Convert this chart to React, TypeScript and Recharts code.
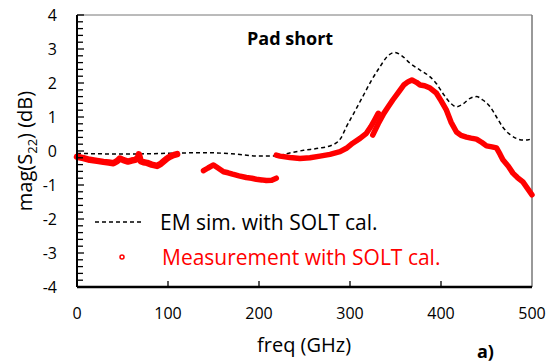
import { LineChart, Line, XAxis, YAxis, ReferenceLine } from "recharts";

// EM simulation (dashed black)
const simFreq = [0, 20, 50, 80, 110, 140, 170, 200, 219, 235, 249, 265, 281, 290, 296, 305, 314, 323, 333, 341, 349, 357, 366, 377, 388, 395, 402, 410, 417, 424, 432, 439, 446, 454, 461, 468, 476, 483, 490, 496, 500];
const simMag = [-0.07, -0.08, -0.09, -0.08, -0.06, -0.05, -0.08, -0.15, -0.14, -0.05, 0.02, 0.08, 0.18, 0.38, 0.71, 1.15, 1.6, 2.05, 2.48, 2.78, 2.9, 2.8, 2.58, 2.38, 2.18, 1.98, 1.7, 1.42, 1.3, 1.38, 1.55, 1.6, 1.5, 1.3, 1.0, 0.7, 0.48, 0.37, 0.32, 0.33, 0.38];

// measurement, four frequency bands
const meas1Freq = [0, 7, 14, 22, 29, 35, 40, 44, 47, 51, 56, 60, 64, 67, 68, 70, 73, 77, 82, 88, 92, 95, 99, 102, 106, 110];
const meas1Mag = [-0.17, -0.21, -0.26, -0.29, -0.32, -0.34, -0.36, -0.3, -0.22, -0.27, -0.31, -0.28, -0.26, -0.2, -0.1, -0.3, -0.33, -0.35, -0.4, -0.44, -0.38, -0.31, -0.22, -0.17, -0.12, -0.09];
const meas2Freq = [139, 144, 150, 155, 161, 166, 171, 178, 186, 192, 197, 203, 208, 214, 219];
const meas2Mag = [-0.58, -0.5, -0.41, -0.5, -0.61, -0.64, -0.68, -0.73, -0.78, -0.8, -0.83, -0.85, -0.87, -0.86, -0.8];
const meas3Freq = [219, 223, 234, 245, 256, 267, 278, 289, 296, 303, 311, 318, 323, 327, 331];
const meas3Mag = [-0.12, -0.15, -0.19, -0.22, -0.2, -0.15, -0.1, -0.02, 0.08, 0.23, 0.37, 0.52, 0.72, 0.91, 1.11];
const meas4Freq = [325, 331, 337, 342, 347, 353, 359, 364, 368, 373, 377, 382, 388, 395, 400, 406, 411, 417, 422, 428, 433, 439, 445, 450, 456, 461, 465, 468, 474, 479, 484, 490, 495, 500];
const meas4Mag = [0.47, 0.8, 1.1, 1.3, 1.5, 1.72, 1.94, 2.04, 2.09, 2.02, 1.94, 1.92, 1.85, 1.7, 1.48, 1.2, 0.85, 0.56, 0.46, 0.41, 0.38, 0.35, 0.25, 0.15, 0.12, 0.09, -0.1, -0.26, -0.45, -0.65, -0.78, -0.91, -1.1, -1.29];

const xTicks = [0, 100, 200, 300, 400, 500];
const yTicks = Array.from({ length: 41 }, (_, i) => Math.round((-4 + i * 0.2) * 10) / 10);

const FONT = "'Open Sans', sans-serif";

const pairs = (fs: number[], vs: number[]) => fs.map((f, i) => ({ f, v: vs[i] }));

const simData = pairs(simFreq, simMag);
const meas = [
  pairs(meas1Freq, meas1Mag),
  pairs(meas2Freq, meas2Mag),
  pairs(meas3Freq, meas3Mag),
  pairs(meas4Freq, meas4Mag),
];

function YTick(props: any) {
  const { x, y, payload } = props;
  const major = Number.isInteger(payload.value);
  return (
    <g>
      <line x1={x} x2={x + (major ? 7 : 6)} y1={y} y2={y} stroke="#000000" strokeWidth={1.3} />
      {major && (
        <text x={x - 20} y={y} dy={6} textAnchor="end" fontSize={16} fontFamily={FONT} fill="#000">
          {payload.value}
        </text>
      )}
    </g>
  );
}

function XTick(props: any) {
  const { x, y, payload } = props;
  const edge = payload.value === 0 || payload.value === 500;
  return (
    <g>
      {!edge && <line x1={x} x2={x} y1={y} y2={y - 6} stroke="#000000" strokeWidth={1.3} />}
      <text x={x} y={y + 32} textAnchor="middle" fontSize={16} fontFamily={FONT} fill="#000">
        {payload.value}
      </text>
    </g>
  );
}

export default function App() {
  return (
    <div style={{ position: "absolute", left: 0, top: 0, width: 551, height: 364, fontFamily: FONT }}>
      <LineChart width={551} height={364} margin={{ top: 15, right: 19, bottom: 0, left: 0 }}>
        <XAxis
          dataKey="f"
          type="number"
          domain={[0, 500]}
          ticks={xTicks}
          tickLine={false}
          tickSize={0}
          tickMargin={0}
          height={77}
          axisLine={{ stroke: "#000", strokeWidth: 2.5 }}
          tick={<XTick />}
          allowDuplicatedCategory={false}
        />
        <YAxis
          type="number"
          domain={[-4, 4]}
          ticks={yTicks}
          interval={0}
          tickLine={false}
          tickSize={0}
          tickMargin={0}
          width={77}
          axisLine={{ stroke: "#000", strokeWidth: 2 }}
          tick={<YTick />}
        />
        <ReferenceLine y={4} stroke="#777" strokeWidth={1} />
        <ReferenceLine x={500} stroke="#777" strokeWidth={1.5} />
        <Line
          data={simData}
          dataKey="v"
          type="monotone"
          stroke="#000"
          strokeWidth={1.5}
          strokeDasharray="4 3"
          dot={false}
          isAnimationActive={false}
        />
        {meas.map((d, i) => (
          <Line
            key={i}
            data={d}
            dataKey="v"
            type="linear"
            stroke="#ff0000"
            strokeWidth={i === 0 ? 6.5 : 5.5}
            strokeLinejoin="round"
            strokeLinecap="round"
            dot={false}
            isAnimationActive={false}
          />
        ))}
      </LineChart>

      <div style={{ position: "absolute", left: 247, top: 26, fontSize: 18, fontWeight: 700, color: "#000" }}>Pad short</div>

      <div style={{ position: "absolute", left: 95, top: 208, display: "flex", alignItems: "center" }}>
        <svg width={50} height={6}>
          <line x1={0} x2={48} y1={3} y2={3} stroke="#000" strokeWidth={1.5} strokeDasharray="4 3" />
        </svg>
        <span style={{ marginLeft: 15, fontSize: 21, color: "#000", lineHeight: "28px" }}>EM sim. with SOLT cal.</span>
      </div>
      <div style={{ position: "absolute", left: 95, top: 243, display: "flex", alignItems: "center" }}>
        <svg width={50} height={8}>
          <circle cx={27} cy={4} r={2} fill="none" stroke="#ff0000" strokeWidth={1.5} />
        </svg>
        <span style={{ marginLeft: 17, fontSize: 21, color: "#ff0000", lineHeight: "28px" }}>Measurement with SOLT cal.</span>
      </div>

      <div
        style={{
          position: "absolute",
          left: 26,
          top: 151,
          transform: "translate(-50%, -50%) rotate(-90deg)",
          whiteSpace: "nowrap",
          fontSize: 20,
          color: "#000",
        }}
      >
        mag(S<sub style={{ fontSize: 13 }}>22</sub>) (dB)
      </div>
      <div style={{ position: "absolute", left: 257, top: 331, fontSize: 20, color: "#000" }}>freq (GHz)</div>
      <div style={{ position: "absolute", left: 477, top: 339, fontSize: 18, fontWeight: 700, color: "#000" }}>a)</div>
    </div>
  );
}
